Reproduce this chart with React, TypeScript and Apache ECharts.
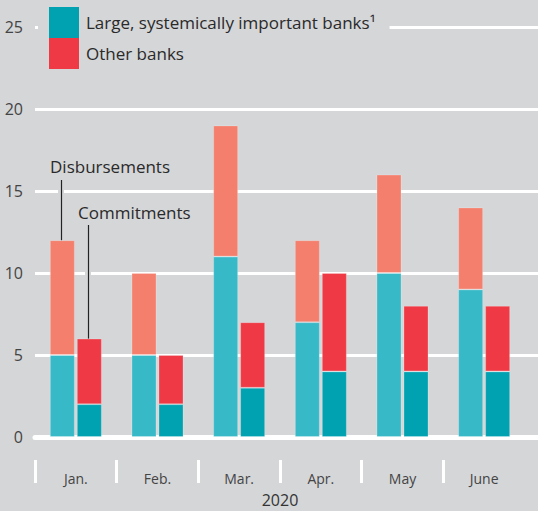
import React, { useEffect, useRef } from 'react';
import * as echarts from 'echarts';

const months = ['Jan.', 'Feb.', 'Mar.', 'Apr.', 'May', 'June'];
const disbLarge = [5, 5, 11, 7, 10, 9];
const disbOther = [7, 5, 8, 5, 6, 5];
const commLarge = [2, 2, 3, 4, 4, 4];
const commOther = [4, 3, 4, 6, 4, 4];
const yMin = 0;
const yMax = 25;
const yStep = 5;
const yearLabel = '2020';
const legendNames = ['Large, systemically important banks\u00b9', 'Other banks'];
const annotationLabels = ['Disbursements', 'Commitments'];

const BG = '#d5d6d8';
const FONT = '"Open Sans", "Noto Sans", sans-serif';
const TXT = '#2a2a2a';
const C_DISB_LARGE = '#38b9c7';
const C_DISB_OTHER = '#f47f6d';
const C_COMM_LARGE = '#00a1b1';
const C_COMM_OTHER = '#ef3a45';
const EDGE = 'rgba(255,255,255,0.22)';

export default function App() {
  const ref = useRef<HTMLDivElement>(null);
  useEffect(() => {
    if (!ref.current) return;
    const chart = echarts.init(ref.current, undefined, { renderer: 'svg' });
    const barWidth = 25;
    const barStyle = (color: string) => ({ color, borderColor: EDGE, borderWidth: 1 });
    const option: any = {
      animation: false,
      backgroundColor: BG,
      textStyle: { fontFamily: FONT },
      grid: [
        { left: 35, top: 27, width: 490, height: 410, outerBoundsMode: 'none', containLabel: false },
        { left: 35, top: 27, right: 0, height: 410, outerBoundsMode: 'none', containLabel: false },
        { left: 35, top: 460, width: 490, height: 23, outerBoundsMode: 'none', containLabel: false },
      ],
      legend: {
        data: legendNames,
        orient: 'vertical',
        left: 38,
        top: 3,
        itemWidth: 30,
        itemHeight: 31,
        itemGap: 0,
        icon: 'rect',
        itemStyle: { borderWidth: 0 },
        backgroundColor: BG,
        padding: [4, 14, 4, 11],
        textStyle: { fontSize: 17, color: TXT, fontFamily: FONT, padding: [0, 0, 0, 2] },
        selectedMode: false,
      },
      xAxis: [
        {
          gridIndex: 0,
          type: 'category',
          data: months,
          axisLine: { show: false },
          axisTick: { show: false },
          axisLabel: { margin: 34, fontSize: 14, color: '#444', fontFamily: FONT },
          name: yearLabel,
          nameLocation: 'middle',
          nameGap: 55,
          nameTextStyle: { fontSize: 16, color: '#333', fontFamily: FONT },
        },
        {
          gridIndex: 1,
          type: 'value',
          min: 0,
          max: 1,
          axisLine: { show: true, onZero: false, lineStyle: { color: '#fff', width: 5 } },
          axisTick: { show: false },
          axisLabel: { show: false },
          splitLine: { show: false },
        },
        {
          gridIndex: 2,
          type: 'category',
          data: months,
          axisLine: { show: false },
          axisTick: { show: false },
          axisLabel: { show: false },
          splitLine: { show: true, showMaxLine: false, lineStyle: { color: '#fff', width: 3 } },
        },
      ],
      yAxis: [
        { gridIndex: 0, type: 'value', min: yMin, max: yMax, interval: yStep, show: false },
        {
          gridIndex: 1,
          type: 'value',
          min: yMin,
          max: yMax,
          interval: yStep,
          axisLine: { show: false },
          axisTick: { show: false },
          axisLabel: { margin: 12, fontSize: 16, color: '#444', fontFamily: FONT },
          splitLine: { lineStyle: { color: '#fff', width: 3 } },
        },
        { gridIndex: 2, type: 'value', min: 0, max: 1, show: false },
      ],
      series: [
        {
          name: 'Disbursements: large',
          type: 'bar',
          xAxisIndex: 0,
          yAxisIndex: 0,
          stack: 'disb',
          data: disbLarge,
          barWidth,
          barGap: '8%',
          itemStyle: barStyle(C_DISB_LARGE),
          z: 3,
        },
        {
          name: 'Disbursements: other',
          type: 'bar',
          xAxisIndex: 0,
          yAxisIndex: 0,
          stack: 'disb',
          data: disbOther,
          barWidth,
          barGap: '8%',
          itemStyle: barStyle(C_DISB_OTHER),
          z: 3,
        },
        {
          name: legendNames[0],
          type: 'bar',
          xAxisIndex: 0,
          yAxisIndex: 0,
          stack: 'comm',
          data: commLarge,
          barWidth,
          barGap: '8%',
          itemStyle: barStyle(C_COMM_LARGE),
          z: 3,
        },
        {
          name: legendNames[1],
          type: 'bar',
          xAxisIndex: 0,
          yAxisIndex: 0,
          stack: 'comm',
          data: commOther,
          barWidth,
          barGap: '8%',
          itemStyle: barStyle(C_COMM_OTHER),
          z: 3,
        },
      ],
    };
    chart.setOption(option);

    // Annotation leader lines, anchored on the January bars
    const half = (barWidth + 2) / 2;
    const pD = chart.convertToPixel({ xAxisIndex: 0, yAxisIndex: 0 }, [months[0], disbLarge[0] + disbOther[0]]) as number[];
    const pC = chart.convertToPixel({ xAxisIndex: 0, yAxisIndex: 0 }, [months[0], commLarge[0] + commOther[0]]) as number[];
    const xD = Math.round(pD[0] - half) - 1;
    const xC = Math.round(pC[0] + half) - 1;
    const topD = 180;
    const topC = 225;
    const mk = (x: number, top: number, bottom: number, label: string, tx: number, ty: number) => [
      { type: 'rect', z: 50, shape: { x: x - 3, y: top, width: 6, height: bottom - top }, style: { fill: BG } },
      { type: 'line', z: 51, shape: { x1: x + 0.5, y1: top, x2: x + 0.5, y2: bottom }, style: { stroke: '#222', lineWidth: 1.2 } },
      {
        type: 'text',
        z: 51,
        x: tx,
        y: ty,
        style: { text: label, fill: TXT, fontSize: 17, fontFamily: FONT, align: 'left', verticalAlign: 'middle' },
      },
    ];
    chart.setOption({
      graphic: [
        ...mk(xD, topD, pD[1], annotationLabels[0], xD - 11, 166),
        ...mk(xC, topC, pC[1], annotationLabels[1], xC - 10, 212),
      ],
    });
    return () => chart.dispose();
  }, []);
  return (
    <div
      ref={ref}
      style={{ position: 'fixed', left: 0, top: 0, width: 538, height: 511, background: BG }}
    />
  );
}
